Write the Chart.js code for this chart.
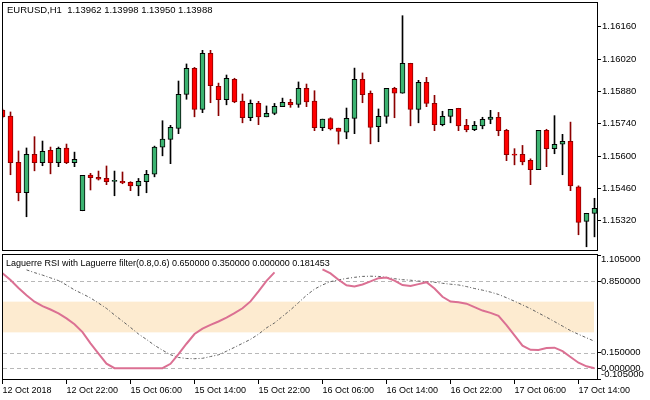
<!DOCTYPE html>
<html>
<head>
<meta charset="utf-8">
<script src="https://cdn.jsdelivr.net/npm/chart.js@4.4.1/dist/chart.umd.min.js"></script>
<style>
body{margin:0;background:#fff;width:650px;height:400px;overflow:hidden;position:relative}
canvas{position:absolute;left:0}
#price{top:0}
#rsi{top:251px}
</style>
</head>
<body>
<canvas id="price" width="650" height="251"></canvas>
<canvas id="rsi" width="650" height="149"></canvas>
<script>
// EURUSD H1, 12 Oct 14:00 .. 17 Oct 16:00
const opens = [1.15799,1.15773,1.15573,1.15441,1.15607,1.15571,1.15625,1.15571,1.15635,1.15571,
  1.15363,1.15518,1.15508,1.15503,1.15490,1.15490,1.15486,1.15471,1.15489,1.15521,
  1.15638,1.15672,1.15720,1.15867,1.15980,1.15802,1.16045,1.15902,1.15844,1.15932,
  1.15838,1.15766,1.15828,1.15770,1.15785,1.15814,1.15833,1.15824,1.15893,1.15838,
  1.15723,1.15762,1.15721,1.15703,1.15763,1.15932,1.15872,1.15727,1.15772,1.15893,
  1.15872,1.16002,1.15802,1.15919,1.15828,1.15736,1.15772,1.15807,1.15733,1.15714,
  1.15731,1.15759,1.15768,1.15711,1.15607,1.15607,1.15581,1.15541,1.15711,1.15632,
  1.15651,1.15664,1.15467,1.15317,1.15352];
const highs = [1.15804,1.15791,1.15622,1.15635,1.15684,1.15665,1.15639,1.15639,1.15652,1.15617,
  1.15516,1.15525,1.15535,1.15557,1.15535,1.15531,1.15489,1.15503,1.15538,1.15643,
  1.15753,1.15733,1.15925,1.15999,1.15984,1.16058,1.16058,1.15916,1.15951,1.15937,
  1.15869,1.15843,1.15837,1.15817,1.15828,1.15851,1.15846,1.15921,1.15912,1.15883,
  1.15760,1.15766,1.15721,1.15808,1.15981,1.15960,1.15882,1.15804,1.15893,1.15898,
  1.16208,1.16002,1.15928,1.15941,1.15863,1.15794,1.15802,1.15807,1.15759,1.15750,
  1.15768,1.15798,1.15789,1.15716,1.15632,1.15646,1.15588,1.15711,1.15716,1.15775,
  1.15694,1.15747,1.15471,1.15352,1.15417];
const lows = [1.15765,1.15519,1.15406,1.15337,1.15536,1.15558,1.15523,1.15554,1.15567,1.15554,
  1.15363,1.15453,1.15496,1.15476,1.15428,1.15480,1.15450,1.15428,1.15441,1.15510,
  1.15601,1.15567,1.15697,1.15846,1.15770,1.15788,1.15831,1.15775,1.15822,1.15831,
  1.15744,1.15753,1.15736,1.15770,1.15779,1.15814,1.15811,1.15811,1.15814,1.15710,
  1.15710,1.15713,1.15652,1.15675,1.15697,1.15831,1.15653,1.15662,1.15742,1.15766,
  1.15872,1.15731,1.15744,1.15814,1.15710,1.15731,1.15744,1.15710,1.15705,1.15710,
  1.15718,1.15740,1.15688,1.15580,1.15562,1.15562,1.15476,1.15541,1.15554,1.15610,
  1.15519,1.15450,1.15259,1.15207,1.15250];
const closes = [1.15770,1.15571,1.15441,1.15607,1.15571,1.15620,1.15571,1.15633,1.15571,1.15586,
  1.15516,1.15506,1.15500,1.15489,1.15490,1.15484,1.15471,1.15490,1.15521,1.15639,
  1.15674,1.15724,1.15867,1.15980,1.15802,1.16045,1.15905,1.15844,1.15937,1.15835,
  1.15766,1.15828,1.15770,1.15785,1.15815,1.15833,1.15822,1.15893,1.15835,1.15723,
  1.15760,1.15718,1.15707,1.15763,1.15932,1.15866,1.15724,1.15772,1.15893,1.15872,
  1.16002,1.15802,1.15919,1.15828,1.15736,1.15772,1.15802,1.15731,1.15714,1.15733,
  1.15759,1.15769,1.15710,1.15606,1.15604,1.15575,1.15541,1.15711,1.15632,1.15651,
  1.15664,1.15471,1.15313,1.15352,1.15373];

// Laguerre RSI (pink) and Laguerre filter (grey), null = not drawn
const rsiValues = [0.926,0.860,0.783,0.712,0.649,0.606,0.573,0.535,0.487,0.430,
  0.353,0.243,0.143,0.045,0,0,0,0,0,0,
  0,0.043,0.138,0.239,0.334,0.387,0.423,0.456,0.494,0.538,
  0.585,0.652,0.750,0.853,0.936,null,null,null,null,null,
  0.965,0.926,0.864,0.809,0.797,0.817,0.847,0.879,0.885,0.855,
  0.812,0.802,0.821,0.840,0.778,0.697,0.651,0.644,0.630,0.597,
  0.563,0.540,0.511,0.420,0.320,0.220,0.180,0.179,0.198,0.201,
  0.167,0.110,0.054,0.019,0];
const filterValues = [null,null,null,0.960,0.933,0.909,0.882,0.855,0.812,0.764,
  0.726,0.686,0.636,0.584,0.520,0.460,0.398,0.334,0.281,0.224,
  0.176,0.132,0.105,0.095,0.093,0.097,0.114,0.131,0.166,0.204,
  0.243,0.282,0.332,0.394,0.442,0.506,0.569,0.640,0.712,0.772,
  0.813,0.845,0.863,0.876,0.887,0.896,0.898,0.896,0.886,0.874,
  0.864,0.859,0.851,0.845,0.839,0.829,0.820,0.813,0.797,0.778,
  0.762,0.743,0.720,0.688,0.654,0.618,0.581,0.539,0.498,0.455,
  0.411,0.367,0.331,0.297,0.263];

const priceTicks = [1.15320,1.15460,1.15600,1.15740,1.15880,1.16020,1.16160];
const indTicks = [-0.105,0,0.15,0.85,1.105];
const bandLevels = [0.35,0.65];
const dashLevels = [0,0.15,0.85];
const xTickIdx = [0,8,16,24,32,40,48,56,64,72];
const xTickLabels = ['12 Oct 2018','12 Oct 22:00','15 Oct 06:00','15 Oct 14:00','15 Oct 22:00',
  '16 Oct 06:00','16 Oct 14:00','16 Oct 22:00','17 Oct 06:00','17 Oct 14:00'];

const priceTitle = 'EURUSD,H1  1.13962 1.13998 1.13950 1.13988';
const rsiTitle = 'Laguerre RSI with Laguerre filter(0.8,0.6) 0.650000 0.350000 0.000000 0.181453';

Chart.defaults.font.family = "'Liberation Sans', Arial, sans-serif";
Chart.defaults.font.size = 9;
Chart.defaults.color = '#000';

const bull = closes.map((c, i) => c >= opens[i]);
const xMin = 0.0625, xMax = 74.3125;

const framePlugin = {
  id: 'frame',
  afterDraw(chart, args, opts) {
    const {ctx, chartArea: a} = chart;
    ctx.save();
    ctx.strokeStyle = '#000';
    ctx.lineWidth = 1;
    ctx.strokeRect(a.left - 0.5, a.top - 0.5, a.right - a.left + 1, a.bottom - a.top + 1);
    ctx.fillStyle = '#000';
    ctx.font = opts.font;
    ctx.textBaseline = 'middle';
    ctx.fillText(opts.text, opts.x, opts.y);
    ctx.restore();
  }
};

const levelsPlugin = {
  id: 'levels',
  beforeDatasetsDraw(chart) {
    const {ctx, chartArea: a, scales: {y}} = chart;
    ctx.save();
    ctx.fillStyle = '#FDEBD0';
    const yTop = y.getPixelForValue(bandLevels[1]);
    const yBot = y.getPixelForValue(bandLevels[0]);
    ctx.fillRect(a.left, yTop, a.right - a.left - 3, yBot - yTop);
    ctx.strokeStyle = '#B8B8B8';
    ctx.lineWidth = 1;
    ctx.setLineDash([4, 3]);
    dashLevels.forEach(v => {
      const py = Math.round(y.getPixelForValue(v)) + 0.5;
      ctx.beginPath();
      ctx.moveTo(a.left, py);
      ctx.lineTo(a.right, py);
      ctx.stroke();
    });
    ctx.restore();
  },
  afterDraw(chart) {
    const {ctx, chartArea: a, scales: {y}} = chart;
    ctx.save();
    ctx.fillStyle = '#000';
    ctx.font = "9.5px 'Liberation Sans', Arial, sans-serif";
    ctx.textBaseline = 'middle';
    indTicks.forEach(v => {
      let py = y.getPixelForValue(v);
      py = Math.min(Math.max(py, a.top + 4), a.bottom - 5);
      ctx.fillText(v.toFixed(6), a.right + 4, py);
    });
    ctx.restore();
  }
};

// keep the panes exactly where the layout padding puts them
const fixYAxis = s => {
  s.width = 53;
  s.paddingTop = 0;
  s.paddingBottom = 0;
};

new Chart(document.getElementById('price'), {
  type: 'bar',
  data: {
    datasets: [{
      data: opens.map((o, i) => ({x: i, y: [Math.min(o, closes[i]), Math.max(o, closes[i])]})),
      backgroundColor: bull.map(b => b ? '#3CB371' : '#FF0000'),
      borderColor: bull.map(b => b ? '#000' : '#8B0000'),
      borderWidth: 1,
      borderSkipped: false,
      barThickness: 5,
      minBarLength: 1,
      grouped: false
    }, {
      data: lows.map((l, i) => ({x: i, y: [l, highs[i]]})),
      backgroundColor: bull.map(b => b ? '#000' : '#8B0000'),
      barThickness: 1,
      grouped: false
    }]
  },
  plugins: [framePlugin],
  options: {
    responsive: false,
    animation: false,
    events: [],
    layout: {padding: {left: 3, top: 3, right: 0, bottom: 1}},
    plugins: {
      legend: {display: false},
      tooltip: {enabled: false},
      frame: {text: priceTitle, x: 7, y: 10, font: "9.5px 'Liberation Sans', Arial, sans-serif"}
    },
    scales: {
      x: {type: 'linear', display: false, min: xMin, max: xMax, offset: false},
      y: {
        position: 'right',
        min: 1.15193,
        max: 1.16263,
        afterBuildTicks: s => { s.ticks = priceTicks.map(v => ({value: v})); },
        afterFit: fixYAxis,
        ticks: {callback: v => v.toFixed(5), padding: 1, font: {size: 9.5}},
        grid: {drawOnChartArea: false, drawTicks: true, tickLength: 4, color: '#000'},
        border: {display: false}
      }
    }
  }
});

new Chart(document.getElementById('rsi'), {
  type: 'line',
  data: {
    datasets: [{
      data: rsiValues.map((v, i) => ({x: i, y: v})),
      borderColor: '#DB7093',
      borderWidth: 2,
      pointRadius: 0,
      tension: 0
    }, {
      data: filterValues.map((v, i) => ({x: i, y: v})),
      borderColor: '#606060',
      borderWidth: 1,
      borderDash: [3, 2, 1, 2],
      pointRadius: 0,
      tension: 0
    }]
  },
  plugins: [levelsPlugin, framePlugin],
  options: {
    responsive: false,
    animation: false,
    events: [],
    layout: {padding: {left: 3, top: 4, right: 0, bottom: 0}},
    plugins: {
      legend: {display: false},
      tooltip: {enabled: false},
      frame: {text: rsiTitle, x: 6, y: 13, font: "9px 'Liberation Sans', Arial, sans-serif"}
    },
    scales: {
      x: {
        type: 'linear',
        min: xMin,
        max: xMax,
        offset: false,
        afterBuildTicks: s => { s.ticks = xTickIdx.map(v => ({value: v})); },
        afterFit: s => { s.height = 21; s.paddingLeft = 0; s.paddingRight = 0; },
        ticks: {
          autoSkip: false,
          maxRotation: 0,
          align: 'start',
          padding: 1,
          callback: v => xTickLabels[xTickIdx.indexOf(v)]
        },
        grid: {drawOnChartArea: false, drawTicks: true, tickLength: 5, color: '#000'},
        border: {display: false}
      },
      y: {
        position: 'right',
        min: -0.105,
        max: 1.105,
        afterBuildTicks: s => { s.ticks = indTicks.map(v => ({value: v})); },
        afterFit: fixYAxis,
        ticks: {display: false},
        grid: {drawOnChartArea: false, drawTicks: true, tickLength: 4, color: '#000'},
        border: {display: false}
      }
    }
  }
});
</script>
</body>
</html>
